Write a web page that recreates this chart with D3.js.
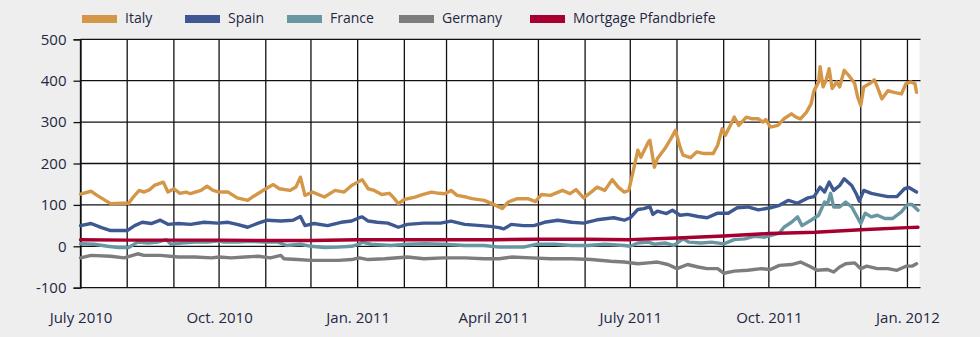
<!DOCTYPE html>
<html>
<head>
<meta charset="utf-8">
<script src="https://cdn.jsdelivr.net/npm/d3@7"></script>
<style>
  html, body { margin: 0; padding: 0; background: #eeeeee; }
  svg { display: block; }
  text { font-family: "Open Sans", "Noto Sans", sans-serif; fill: #1e2744; }
</style>
</head>
<body>
<svg id="chart" width="980" height="337"></svg>
<script>
// Spreads over Bunds (basis points), Jul 2010 – Jan 2012
const seriesNames = ["Italy", "Spain", "France", "Germany", "Mortgage Pfandbriefe"];
const seriesColors = ["#d49748", "#3e5891", "#6896a3", "#7d7d7d", "#a50030"];

const italy = [
  ["2010-07-01",126],["2010-07-08",133],["2010-07-12",123],["2010-07-21",103],["2010-07-28",104],
  ["2010-08-02",104],["2010-08-05",119],["2010-08-09",135],["2010-08-12",131],["2010-08-16",137],
  ["2010-08-19",147],["2010-08-25",155],["2010-08-28",131],["2010-09-01",139],["2010-09-05",128],
  ["2010-09-09",131],["2010-09-12",127],["2010-09-19",135],["2010-09-23",145],["2010-09-27",135],
  ["2010-10-01",131],["2010-10-07",131],["2010-10-13",117],["2010-10-20",111],["2010-10-24",121],
  ["2010-11-01",139],["2010-11-06",149],["2010-11-10",139],["2010-11-17",135],["2010-11-21",143],
  ["2010-11-24",167],["2010-11-27",123],["2010-12-02",131],["2010-12-10",119],["2010-12-17",135],
  ["2010-12-23",131],["2010-12-28",147],["2011-01-01",155],["2011-01-04",161],["2011-01-08",139],
  ["2011-01-12",135],["2011-01-17",125],["2011-01-22",128],["2011-01-25",117],["2011-01-28",103],
  ["2011-02-01",113],["2011-02-08",119],["2011-02-13",125],["2011-02-19",131],["2011-02-24",128],
  ["2011-02-28",127],["2011-03-04",135],["2011-03-08",123],["2011-03-14",119],["2011-03-18",115],
  ["2011-03-26",111],["2011-03-31",103],["2011-04-05",95],["2011-04-07",91],["2011-04-11",107],
  ["2011-04-17",115],["2011-04-24",115],["2011-04-29",108],["2011-05-03",125],["2011-05-09",123],
  ["2011-05-17",135],["2011-05-22",127],["2011-05-26",137],["2011-05-31",117],["2011-06-05",131],
  ["2011-06-09",143],["2011-06-14",135],["2011-06-19",161],["2011-06-23",143],["2011-06-27",131],
  ["2011-06-30",135],["2011-07-03",183],["2011-07-06",232],["2011-07-08",215],["2011-07-13",252],
  ["2011-07-14",256],["2011-07-17",191],["2011-07-19",212],["2011-07-24",236],["2011-07-28",260],
  ["2011-07-31",280],["2011-08-03",240],["2011-08-05",220],["2011-08-10",214],["2011-08-14",228],
  ["2011-08-19",224],["2011-08-25",224],["2011-08-28",244],["2011-08-31",284],["2011-09-02",268],
  ["2011-09-06",296],["2011-09-08",312],["2011-09-11",292],["2011-09-16",312],["2011-09-20",308],
  ["2011-09-24",308],["2011-09-27",300],["2011-09-29",306],["2011-10-02",288],["2011-10-07",292],
  ["2011-10-11",308],["2011-10-16",320],["2011-10-19",312],["2011-10-22",308],["2011-10-26",324],
  ["2011-10-29",344],["2011-10-31",376],["2011-11-03",397],["2011-11-04",434],["2011-11-06",385],
  ["2011-11-08",401],["2011-11-10",429],["2011-11-12",381],["2011-11-15",397],["2011-11-17",385],
  ["2011-11-20",425],["2011-11-23",413],["2011-11-27",393],["2011-11-29",360],["2011-12-01",340],
  ["2011-12-03",385],["2011-12-07",393],["2011-12-10",402],["2011-12-12",385],["2011-12-15",356],
  ["2011-12-19",376],["2011-12-23",372],["2011-12-28",368],["2011-12-31",393],["2012-01-03",397],
  ["2012-01-06",393],["2012-01-07",372]
];

const spain = [
  ["2010-07-01",50],["2010-07-08",55],["2010-07-15",45],["2010-07-21",38],["2010-08-01",38],
  ["2010-08-06",50],["2010-08-11",58],["2010-08-17",55],["2010-08-23",63],["2010-08-28",53],
  ["2010-09-04",55],["2010-09-12",53],["2010-09-21",58],["2010-09-30",56],["2010-10-07",58],
  ["2010-10-13",53],["2010-10-20",46],["2010-10-27",56],["2010-11-02",63],["2010-11-11",61],
  ["2010-11-19",63],["2010-11-24",72],["2010-11-27",50],["2010-12-03",55],["2010-12-12",50],
  ["2010-12-21",58],["2010-12-28",61],["2011-01-02",69],["2011-01-04",71],["2011-01-08",61],
  ["2011-01-14",58],["2011-01-21",56],["2011-01-28",46],["2011-02-03",53],["2011-02-14",56],
  ["2011-02-25",56],["2011-03-04",61],["2011-03-13",53],["2011-03-24",50],["2011-03-30",48],
  ["2011-04-05",45],["2011-04-08",42],["2011-04-13",53],["2011-04-21",50],["2011-04-28",50],
  ["2011-05-05",58],["2011-05-14",63],["2011-05-23",58],["2011-05-31",56],["2011-06-09",64],
  ["2011-06-20",69],["2011-06-27",63],["2011-07-01",69],["2011-07-06",89],["2011-07-10",91],
  ["2011-07-14",96],["2011-07-16",77],["2011-07-19",85],["2011-07-25",79],["2011-07-29",87],
  ["2011-08-03",75],["2011-08-08",77],["2011-08-15",72],["2011-08-21",69],["2011-08-28",80],
  ["2011-09-04",80],["2011-09-10",93],["2011-09-17",95],["2011-09-24",88],["2011-10-02",93],
  ["2011-10-08",99],["2011-10-14",111],["2011-10-20",104],["2011-10-27",117],["2011-10-31",120],
  ["2011-11-04",143],["2011-11-07",131],["2011-11-10",155],["2011-11-13",135],["2011-11-17",147],
  ["2011-11-20",163],["2011-11-25",147],["2011-11-28",127],["2011-11-30",109],["2011-12-03",135],
  ["2011-12-08",128],["2011-12-12",125],["2011-12-19",120],["2011-12-25",120],["2011-12-30",139],
  ["2012-01-02",142],["2012-01-07",131]
];

const france = [
  ["2010-07-01",6],["2010-07-10",5],["2010-07-19",0],["2010-07-26",-3],["2010-08-02",-3],
  ["2010-08-08",10],["2010-08-15",8],["2010-08-21",10],["2010-08-27",16],["2010-08-30",5],
  ["2010-09-06",8],["2010-09-15",10],["2010-09-23",10],["2010-10-01",13],["2010-10-04",10],
  ["2010-10-13",10],["2010-10-22",12],["2010-10-31",10],["2010-11-09",10],["2010-11-15",2],
  ["2010-11-24",5],["2010-12-01",0],["2010-12-10",-3],["2010-12-19",-2],["2010-12-28",0],
  ["2011-01-02",5],["2011-01-04",10],["2011-01-10",5],["2011-01-23",2],["2011-02-03",5],
  ["2011-02-14",6],["2011-02-27",5],["2011-03-13",2],["2011-03-26",2],["2011-04-05",-2],
  ["2011-04-11",-2],["2011-04-21",-2],["2011-04-30",5],["2011-05-12",5],["2011-05-23",2],
  ["2011-06-03",2],["2011-06-14",5],["2011-06-27",2],["2011-07-01",0],["2011-07-06",8],
  ["2011-07-13",10],["2011-07-17",5],["2011-07-24",8],["2011-07-30",2],["2011-08-05",18],
  ["2011-08-09",10],["2011-08-17",8],["2011-08-24",10],["2011-09-01",6],["2011-09-08",16],
  ["2011-09-15",18],["2011-09-21",24],["2011-09-28",22],["2011-10-05",29],["2011-10-08",32],
  ["2011-10-11",46],["2011-10-16",58],["2011-10-20",71],["2011-10-23",50],["2011-10-29",63],
  ["2011-11-03",75],["2011-11-07",107],["2011-11-09",103],["2011-11-11",128],["2011-11-13",95],
  ["2011-11-17",95],["2011-11-21",107],["2011-11-25",95],["2011-11-28",75],["2011-12-01",55],
  ["2011-12-04",80],["2011-12-08",71],["2011-12-12",75],["2011-12-17",67],["2011-12-22",67],
  ["2011-12-28",83],["2012-01-01",101],["2012-01-04",101],["2012-01-08",87]
];

const germany = [
  ["2010-07-01",-28],["2010-07-08",-22],["2010-07-21",-24],["2010-07-30",-28],["2010-08-08",-18],
  ["2010-08-12",-22],["2010-08-23",-22],["2010-09-04",-26],["2010-09-15",-26],["2010-09-26",-28],
  ["2010-10-01",-26],["2010-10-09",-28],["2010-10-18",-26],["2010-10-27",-24],["2010-11-04",-28],
  ["2010-11-11",-22],["2010-11-13",-30],["2010-11-22",-32],["2010-12-01",-34],["2010-12-10",-34],
  ["2010-12-19",-34],["2010-12-28",-32],["2011-01-02",-28],["2011-01-08",-32],["2011-01-19",-30],
  ["2011-02-03",-26],["2011-02-14",-30],["2011-02-27",-28],["2011-03-13",-28],["2011-03-26",-30],
  ["2011-04-05",-30],["2011-04-13",-26],["2011-04-26",-28],["2011-05-09",-30],["2011-05-23",-30],
  ["2011-06-05",-32],["2011-06-18",-36],["2011-06-27",-38],["2011-07-06",-42],["2011-07-13",-40],
  ["2011-07-19",-38],["2011-07-26",-44],["2011-08-01",-54],["2011-08-08",-44],["2011-08-15",-50],
  ["2011-08-21",-54],["2011-08-28",-54],["2011-09-01",-65],["2011-09-08",-60],["2011-09-17",-58],
  ["2011-09-26",-54],["2011-10-02",-56],["2011-10-08",-46],["2011-10-16",-44],["2011-10-22",-38],
  ["2011-10-29",-50],["2011-11-02",-58],["2011-11-09",-56],["2011-11-13",-62],["2011-11-17",-50],
  ["2011-11-21",-42],["2011-11-27",-40],["2011-12-01",-54],["2011-12-05",-48],["2011-12-12",-54],
  ["2011-12-19",-54],["2011-12-25",-58],["2011-12-31",-48],["2012-01-04",-48],["2012-01-07",-42]
];

const pfandbriefe = [
  ["2010-07-01",16],["2010-08-01",15],["2010-09-01",15],["2010-10-01",15],["2010-11-01",14],
  ["2010-12-01",14],["2011-01-01",16],["2011-02-01",16],["2011-03-01",16],["2011-04-01",16],
  ["2011-05-01",17],["2011-06-01",17],["2011-07-01",16],["2011-08-01",20],["2011-09-01",25],
  ["2011-10-01",31],["2011-11-01",34],["2011-12-01",40],["2012-01-01",45],["2012-01-08",46]
];

const yTicks = [-100, 0, 100, 200, 300, 400, 500];
const xTickDates = ["2010-07-01","2010-10-01","2011-01-01","2011-04-01","2011-07-01","2011-10-01","2012-01-01"];
const xTickLabels = ["July 2010","Oct. 2010","Jan. 2011","April 2011","July 2011","Oct. 2011","Jan. 2012"];

const parse = d3.utcParse("%Y-%m-%d");
const allSeries = [italy, spain, france, germany, pfandbriefe].map(s => s.map(([d, v]) => ({date: parse(d), value: v})));

const svg = d3.select("#chart");
const plotLeft = 80.5, plotRight = 919.5, plotTop = 39.3, plotBottom = 287.7;

const x = d3.scaleUtc()
  .domain([parse("2010-07-01"), parse("2012-01-09")])
  .range([plotLeft, plotRight]);
const y = d3.scaleLinear().domain([-100, 500]).range([plotBottom, plotTop]);

// plot background
svg.append("rect")
  .attr("x", plotLeft).attr("y", plotTop)
  .attr("width", plotRight - plotLeft).attr("height", plotBottom - plotTop)
  .attr("fill", "#ffffff");

// monthly vertical grid
const months = d3.utcMonth.range(parse("2010-07-01"), parse("2012-01-09"));
svg.append("g").selectAll("line").data(months).join("line")
  .attr("x1", d => x(d)).attr("x2", d => x(d))
  .attr("y1", plotTop).attr("y2", plotBottom)
  .attr("stroke", "#111").attr("stroke-width", 1.3);

// horizontal grid
svg.append("g").selectAll("line").data(yTicks).join("line")
  .attr("x1", plotLeft).attr("x2", plotRight + 1)
  .attr("y1", d => y(d)).attr("y2", d => y(d))
  .attr("stroke", "#111").attr("stroke-width", 1.3);

// y axis (plain hyphen for negative labels)
const yAxis = svg.append("g")
  .attr("transform", `translate(${plotLeft},0)`)
  .call(d3.axisLeft(y).tickValues(yTicks).tickSize(7).tickPadding(7).tickFormat(d => String(d)));
yAxis.select(".domain").attr("stroke", "#111").attr("stroke-width", 1.3);
yAxis.selectAll(".tick line").attr("stroke", "#111").attr("stroke-width", 1.3);
yAxis.selectAll(".tick text")
  .attr("font-size", 15).attr("font-family", null).attr("fill", "#1e2744");

// x axis labels
const xAxis = svg.append("g")
  .attr("transform", `translate(0,${plotBottom})`)
  .call(d3.axisBottom(x).tickValues(xTickDates.map(parse)).tickSize(0).tickPadding(25)
    .tickFormat((d, i) => xTickLabels[i]));
xAxis.select(".domain").remove();
xAxis.selectAll(".tick text")
  .attr("font-size", 15).attr("font-family", null).attr("fill", "#1e2744");

// series lines
const line = d3.line().x(d => x(d.date)).y(d => y(d.value)).curve(d3.curveLinear);
svg.append("g").selectAll("path").data(allSeries).join("path")
  .attr("d", line)
  .attr("fill", "none")
  .attr("stroke", (d, i) => seriesColors[i])
  .attr("stroke-width", 3.4)
  .attr("stroke-linejoin", "round")
  .attr("stroke-linecap", "round");

// legend
const legendX = [82, 185, 287, 399, 530];
const legend = svg.append("g").selectAll("g").data(seriesNames).join("g")
  .attr("transform", (d, i) => `translate(${legendX[i]},15)`);
legend.append("rect")
  .attr("width", 35).attr("height", 8)
  .attr("fill", (d, i) => seriesColors[i]);
legend.append("text")
  .attr("x", 43).attr("y", 7.8)
  .attr("font-size", 14)
  .text(d => d);
</script>
</body>
</html>
